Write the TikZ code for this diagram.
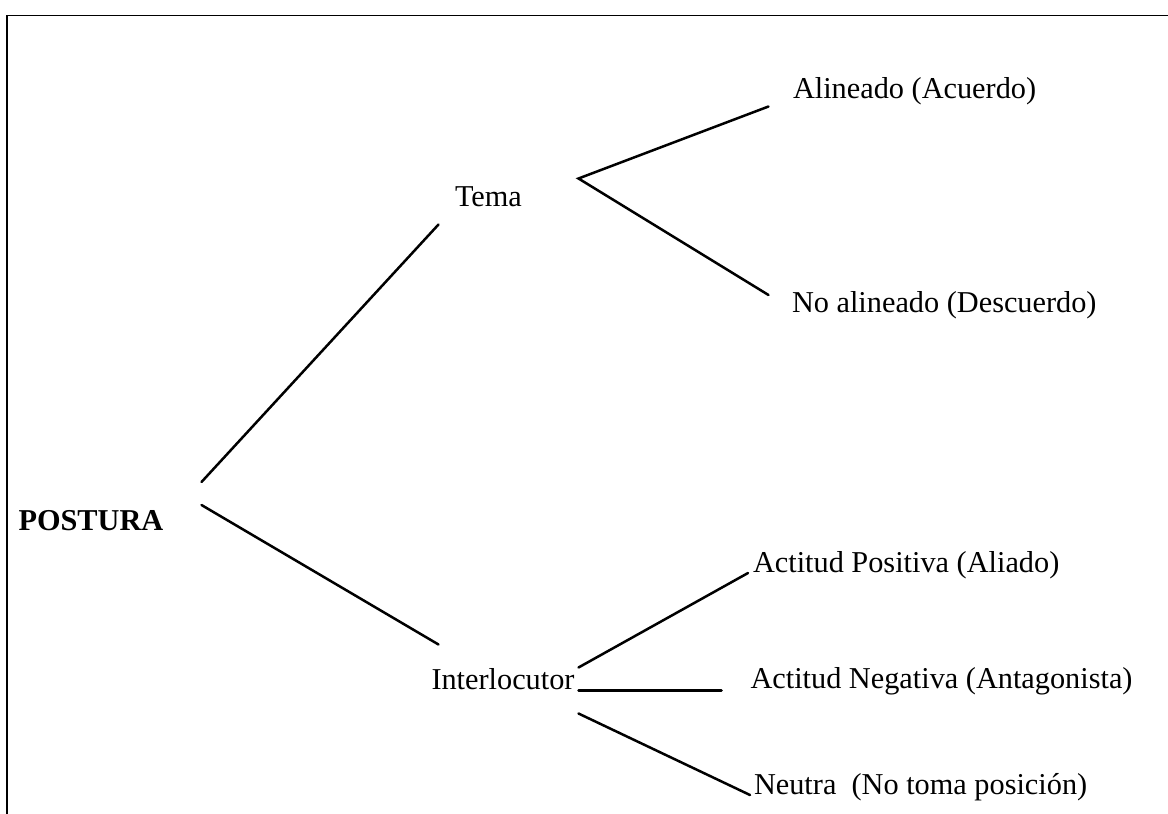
\documentclass[tikz,border=0pt]{standalone}
\usepackage{fontspec}
\setmainfont{Liberation Serif}
\begin{document}
\begin{tikzpicture}[x=1pt,y=-1pt,
  lbl/.style={anchor=base west,inner sep=0pt,outer sep=0pt,font=\fontsize{30.3}{36}\selectfont},
  branch/.style={line width=2.5pt,line cap=round},
  frame/.style={line width=1.5pt}]
\useasboundingbox (0,0) rectangle (1168,814);
% frame (top and left only)
\coordinate (fTL) at (7,15.5);
\coordinate (fTR) at (1168,15.5);
\coordinate (fBL) at (7,814);
\draw[frame] (fTR) -- (fTL) -- (fBL);
% labels
\node[lbl,font=\fontsize{30.3}{36}\selectfont\bfseries] (postura) at (18.5,530) {POSTURA};
\node[lbl] (tema) at (455,206) {Tema};
\node[lbl] (inter) at (431.5,689) {Interlocutor};
\node[lbl] (alin) at (793,98) {Alineado (Acuerdo)};
\node[lbl] (noalin) at (792,312) {No alineado (Descuerdo)};
\node[lbl] (pos) at (753,572) {Actitud Positiva (Aliado)};
\node[lbl] (neg) at (750.5,688.5) {Actitud Negativa (Antagonista)};
\node[lbl] (neu) at (754,794) {Neutra\ \ (No toma posición)};
% connector end points
\coordinate (pA) at (201.5,482);
\coordinate (pB) at (201.5,505);
\coordinate (tIn) at (438.5,224.5);
\coordinate (iIn) at (438.5,644.5);
\coordinate (tOut) at (578.5,178.5);
\coordinate (alIn) at (768.5,106.5);
\coordinate (naIn) at (768.5,295);
\coordinate (iOutA) at (578.5,667.5);
\coordinate (iOutB) at (578.5,690.5);
\coordinate (iOutC) at (578.5,713.5);
\coordinate (poIn) at (748,573);
\coordinate (neIn) at (721.5,690.5);
\coordinate (nuIn) at (750,795);
% connectors
\draw[branch] (pA) -- (tIn);
\draw[branch] (pB) -- (iIn);
\draw[branch] (alIn) -- (tOut) -- (naIn);
\draw[branch] (iOutA) -- (poIn);
\draw[branch] (iOutB) -- (neIn);
\draw[branch] (iOutC) -- (nuIn);
\end{tikzpicture}
\end{document}
